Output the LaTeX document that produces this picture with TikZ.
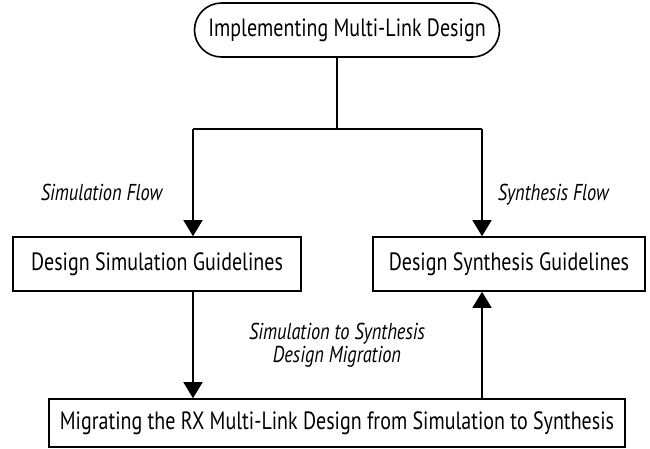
\documentclass[tikz,border=0pt]{standalone}
\usepackage{fontspec}
\setmainfont{PT Sans}[FakeStretch=0.8]
\usetikzlibrary{arrows.meta,shapes.misc}

\begin{document}
\begin{tikzpicture}[x=1pt, y=-1pt, line width=1.6pt,
  box/.style={draw, rectangle, minimum height=54pt, inner sep=0pt,
    font=\fontsize{25}{29}\selectfont},
  lbl/.style={inner sep=0pt, font=\fontsize{23}{23}\selectfont\itshape},
  arr/.style={-{Triangle[length=16pt,width=19pt]}}]

  \useasboundingbox (0,0) rectangle (650,448);

  % boxes
  \node[box, rounded rectangle, minimum width=305pt] (top) at (347,30) {Implementing Multi-Link Design};
  \node[box, minimum width=288pt] (simbox) at (157,264) {Design Simulation Guidelines};
  \node[box, minimum width=272pt] (synbox) at (509,264) {Design Synthesis Guidelines};
  \node[box, minimum width=576pt, minimum height=48pt] (migbox) at (337,423) {Migrating the RX Multi-Link Design from Simulation to Synthesis};

  % split point
  \coordinate (split) at (337,129);
  \coordinate (lft) at (193,129);
  \coordinate (rgt) at (482,129);

  \draw (top.south -| split) -- (split);
  \draw (lft) -- (rgt);
  \draw[arr] (lft) -- (lft |- simbox.north); % simulation flow
  \draw[arr] (rgt) -- (rgt |- synbox.north); % synthesis flow
  \draw[arr] (lft |- simbox.south) -- (lft |- migbox.north);
  \draw[arr] (rgt |- migbox.north) -- (rgt |- synbox.south);

  % labels
  \node[lbl, anchor=base east] (simflow) at (163,200) {Simulation Flow};
  \node[lbl, anchor=base west] (synflow) at (497,200) {Synthesis Flow};
  \node[lbl, align=center, anchor=base] (migflow) at (337,362) {Simulation to Synthesis\\Design Migration};
\end{tikzpicture}
\end{document}
